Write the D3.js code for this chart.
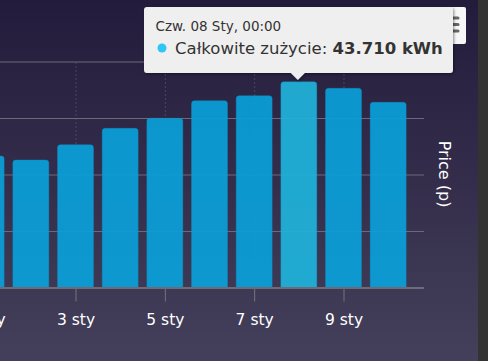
<!DOCTYPE html>
<html><head><meta charset="utf-8">
<script src="https://cdn.jsdelivr.net/npm/d3@7/dist/d3.min.js"></script>
<style>
html,body{margin:0;padding:0;background:#333;}
svg{display:block;}
</style></head>
<body><svg id="c" width="488" height="361"></svg>
<script>
const days = [1,2,3,4,5,6,7,8,9,10];
const usage = [27.93,27.08,30.33,33.81,35.94,39.68,40.74,43.71,42.31,39.34];
const tickDays = [1,3,5,7,9];
const yTicks = [12,24,36,48];
const monthLabel = "sty";
const tooltipHeader = "Czw. 08 Sty, 00:00";
const seriesName = "Całkowite zużycie";
const highlightDay = 8;
const axisTitle = "Price (p)";

const svg = d3.select("#c");
const defs = svg.append("defs");
const grad = defs.append("linearGradient").attr("id","bg").attr("x1",0).attr("y1",0).attr("x2",0).attr("y2",1);
grad.append("stop").attr("offset","0%").attr("stop-color","#231b3b");
grad.append("stop").attr("offset","100%").attr("stop-color","#44405b");
const sh = defs.append("filter").attr("id","sh").attr("x","-10%").attr("y","-20%").attr("width","130%").attr("height","160%");
sh.append("feDropShadow").attr("dx",1).attr("dy",1).attr("stdDeviation",1.5).attr("flood-color","#000").attr("flood-opacity",0.45);

svg.append("rect").attr("x",0).attr("y",0).attr("width",478).attr("height",361).attr("fill","url(#bg)");
svg.append("rect").attr("x",478).attr("y",0).attr("width",10).attr("height",361).attr("fill","#333333");

const dt = d => new Date(Date.UTC(2026,0,d));
const x = d3.scaleUtc().domain([dt(3), dt(9)]).range([75.5, 343.5]);
const y = d3.scaleLinear().domain([0,48]).range([287.5, 61.5]);
const barW = 36;

// horizontal grid
const gy = svg.append("g").attr("transform","translate(424,0)")
  .call(d3.axisRight(y).tickValues(yTicks).tickSize(-520).tickFormat(""));
gy.select(".domain").remove();
gy.selectAll("line").attr("stroke","#6d6a78").attr("stroke-width",1);

// vertical dotted grid
const gx = svg.append("g").attr("transform","translate(0,287.5)")
  .call(d3.axisBottom(x).tickValues(tickDays.map(dt)).tickSize(-226).tickFormat(""));
gx.select(".domain").remove();
gx.selectAll("line").attr("stroke","#6a6580").attr("stroke-dasharray","1,3").attr("stroke-width",1);

// bars
const r = 3;
function barPath(cx, top, bottom){
  const l = cx - barW/2, rr = cx + barW/2;
  return `M${l},${bottom}V${top+r}Q${l},${top} ${l+r},${top}H${rr-r}Q${rr},${top} ${rr},${top+r}V${bottom}Z`;
}
svg.append("g").selectAll("path").data(days).join("path")
  .attr("d", (d,i) => barPath(x(dt(d)), y(usage[i]), y(0)))
  .attr("fill", d => d === highlightDay ? "#1fb3da" : "#0a9fd8")
  .attr("fill-opacity", 0.93)
  .attr("stroke", "#0b8ec4").attr("stroke-width", 0.6).attr("stroke-opacity",0.6);

// x axis
const ax = svg.append("g").attr("transform","translate(0,288.5)")
  .call(d3.axisBottom(x).tickValues(tickDays.map(dt)).tickSize(13).tickPadding(12)
    .tickFormat(d => `${d.getUTCDate()} ${monthLabel}`));
ax.select(".domain").remove();
svg.append("line").attr("x1",-10).attr("x2",424).attr("y1",288).attr("y2",288).attr("stroke","#6e6b78").attr("stroke-width",2);
ax.selectAll("line").attr("stroke","#77737f").attr("stroke-width",1);
ax.selectAll("text").attr("fill","#ffffff").attr("font-family","DejaVu Sans").attr("font-size","15.5px");

// right axis title
svg.append("text").attr("transform","translate(439,174) rotate(90)")
  .attr("text-anchor","middle").attr("fill","#ffffff")
  .attr("font-family","DejaVu Sans").attr("font-size","16px").text(axisTitle);

// menu button
svg.append("rect").attr("x",428).attr("y",7).attr("width",38).attr("height",37).attr("rx",2).attr("fill","#f7f7f7");
[18,24.5,31].forEach(yy => svg.append("line").attr("x1",446).attr("x2",458).attr("y1",yy).attr("y2",yy)
  .attr("stroke","#666").attr("stroke-width",3).attr("stroke-linecap","round"));

// tooltip
const hi = days.indexOf(highlightDay);
const px = x(dt(highlightDay)) - 1;
const tt = svg.append("g");
const bx0 = 144, bx1 = 453, by0 = 7, by1 = 73, tr = 3;
tt.append("path")
  .attr("d", `M${bx0+tr},${by0}H${bx1-tr}Q${bx1},${by0} ${bx1},${by0+tr}V${by1-tr}Q${bx1},${by1} ${bx1-tr},${by1}H${px+7}L${px},${by1+7}L${px-7},${by1}H${bx0+tr}Q${bx0},${by1} ${bx0},${by1-tr}V${by0+tr}Q${bx0},${by0} ${bx0+tr},${by0}Z`)
  .attr("fill","#efefef").attr("filter","url(#sh)");
tt.append("text").attr("x",155.5).attr("y",31).attr("fill","#333")
  .attr("font-family","DejaVu Sans").attr("font-size","13.5px").text(tooltipHeader);
tt.append("circle").attr("cx",162).attr("cy",48).attr("r",4.5).attr("fill","#2ec5f7");
const t2 = tt.append("text").attr("x",175).attr("y",53.5).attr("fill","#333")
  .attr("font-family","DejaVu Sans").attr("font-size","16.5px");
t2.append("tspan").text(seriesName + ": ");
t2.append("tspan").attr("font-weight","bold").text(d3.format(".3f")(usage[hi]) + " kWh");
</script></body></html>
